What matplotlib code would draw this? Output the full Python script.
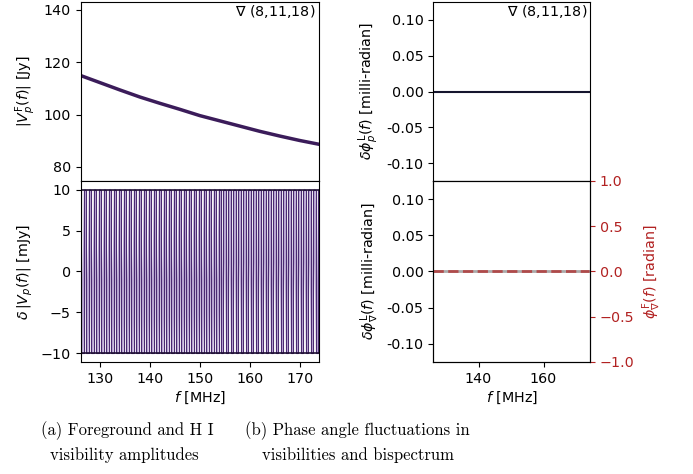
import numpy as np
import matplotlib
matplotlib.use("Agg")
import matplotlib.pyplot as plt

fg_freq = [126, 130, 134, 138, 142, 146, 150, 154, 158, 162, 166, 170, 174]
fg_amp = [115.0, 112.2, 109.4, 106.7, 104.3, 102.0, 99.6, 97.6, 95.6, 93.6, 91.8, 90.1, 88.6]

# HI fluctuations (mJy), one value per channel
hi_freq = np.linspace(126.0, 174.0, 97)
hi_amp = [10, -10, 10, -10, 10, -10, 10, -10, 10, -10, 10, -10, 10, -10, 10, -10,
          10, -10, 10, -10, 10, -10, 10, -10, 10, -10, 10, -10, 10, -10, 10, -10,
          10, -10, 10, -10, 10, -10, 10, -10, 10, -10, 10, -10, 10, -10, 10, -10,
          10, -10, 10, -10, 10, -10, 10, -10, 10, -10, 10, -10, 10, -10, 10, -10,
          10, -10, 10, -10, 10, -10, 10, -10, 10, -10, 10, -10, 10, -10, 10, -10,
          10, -10, 10, -10, 10, -10, 10, -10, 10, -10, 10, -10, 10, -10, 10, -10, 10]
# envelope of the fluctuations
env_freq = [126, 174]
env_hi = [10, 10]
env_lo = [-10, -10]

# phases
ph_freq = [126, 174]
dphi_vis = [0.0, 0.0]
dphi_bisp = [0.0, 0.0]
phi_fg_bisp = [0.0, 0.0]

triad = r'$\nabla$ (8,11,18)'
dark = '#3b1c5a'
mid = '#4b2a72'
light = '#9477bd'
red = '#b22222'

plt.rcParams['font.size'] = 10.3

fig = plt.figure(figsize=(6.93, 4.74), dpi=100)
ax1 = fig.add_axes([0.1162, 0.6181, 0.3442, 0.3776])
ax2 = fig.add_axes([0.1162, 0.2363, 0.3442, 0.3819], sharex=ax1)
ax3 = fig.add_axes([0.6253, 0.6181, 0.2261, 0.3776])
ax4 = fig.add_axes([0.6253, 0.2363, 0.2261, 0.3819], sharex=ax3)

ax1.plot(fg_freq, fg_amp, color=dark, lw=2.5)
ax1.set_ylim(74.6, 143)
ax1.set_yticks([80, 100, 120, 140])
ax1.set_ylabel(r'$|V_p^\mathrm{F}(f)|$ [Jy]')
ax1.tick_params(bottom=False, labelbottom=False)
ax1.text(0.985, 0.995, triad, transform=ax1.transAxes, ha='right', va='top')

ax2.plot(hi_freq, hi_amp, color=light, lw=1.6, alpha=0.6)
ax2.plot(hi_freq, hi_amp, color=mid, lw=0.8, drawstyle='steps-mid')
ax2.plot(env_freq, env_hi, color='#1e0f33', lw=1.2)
ax2.plot(env_freq, env_lo, color='#1e0f33', lw=1.2)
ax2.set_ylim(-11.1, 11.1)
ax2.set_yticks([-10, -5, 0, 5, 10])
ax2.set_xlim(126.1, 173.9)
ax2.set_xticks([130, 140, 150, 160, 170])
ax2.set_ylabel(r'$\delta\,|V_p(f)|$ [mJy]')
ax2.set_xlabel(r'$f$ [MHz]', labelpad=3)

ax3.plot(ph_freq, dphi_vis, color='#15152e', lw=1.5)
ax3.set_ylim(-0.125, 0.125)
ax3.set_yticks([-0.1, -0.05, 0, 0.05, 0.1])
ax3.yaxis.set_major_formatter(matplotlib.ticker.FormatStrFormatter('%.2f'))
ax3.set_ylabel(r'$\delta\phi_p^\mathrm{L}(f)$ [milli-radian]')
ax3.tick_params(bottom=False, labelbottom=False)
ax3.text(0.985, 0.995, triad, transform=ax3.transAxes, ha='right', va='top')

ax4.plot(ph_freq, dphi_bisp, color='#aaaaaa', lw=2)
ax4.set_ylim(-0.125, 0.125)
ax4.set_yticks([-0.1, -0.05, 0, 0.05, 0.1])
ax4.yaxis.set_major_formatter(matplotlib.ticker.FormatStrFormatter('%.2f'))
ax4.set_xlim(126.1, 174.3)
ax4.set_xticks([140, 160])
ax4.set_ylabel(r'$\delta\phi_\nabla^\mathrm{L}(f)$ [milli-radian]')
ax4.set_xlabel(r'$f$ [MHz]', labelpad=3)

ax5 = ax4.twinx()
ax5.plot(ph_freq, phi_fg_bisp, color=red, lw=2, ls='--', alpha=0.7)
ax5.set_ylim(-1, 1)
ax5.set_yticks([-1, -0.5, 0, 0.5, 1])
ax5.tick_params(axis='y', colors=red)
ax5.spines['right'].set_color('black')
ax5.set_ylabel(r'$\phi_\nabla^\mathrm{F}(f)$ [radian]', color=red)

fig.text(0.183, 0.083, r'(a) Foreground and H I', family='cmr10', fontsize=12, ha='center')
fig.text(0.180, 0.030, 'visibility amplitudes', family='cmr10', fontsize=12, ha='center')
fig.text(0.516, 0.083, '(b) Phase angle fluctuations in', family='cmr10', fontsize=12, ha='center')
fig.text(0.517, 0.030, 'visibilities and bispectrum', family='cmr10', fontsize=12, ha='center')

fig.savefig('out.png', dpi=100)
